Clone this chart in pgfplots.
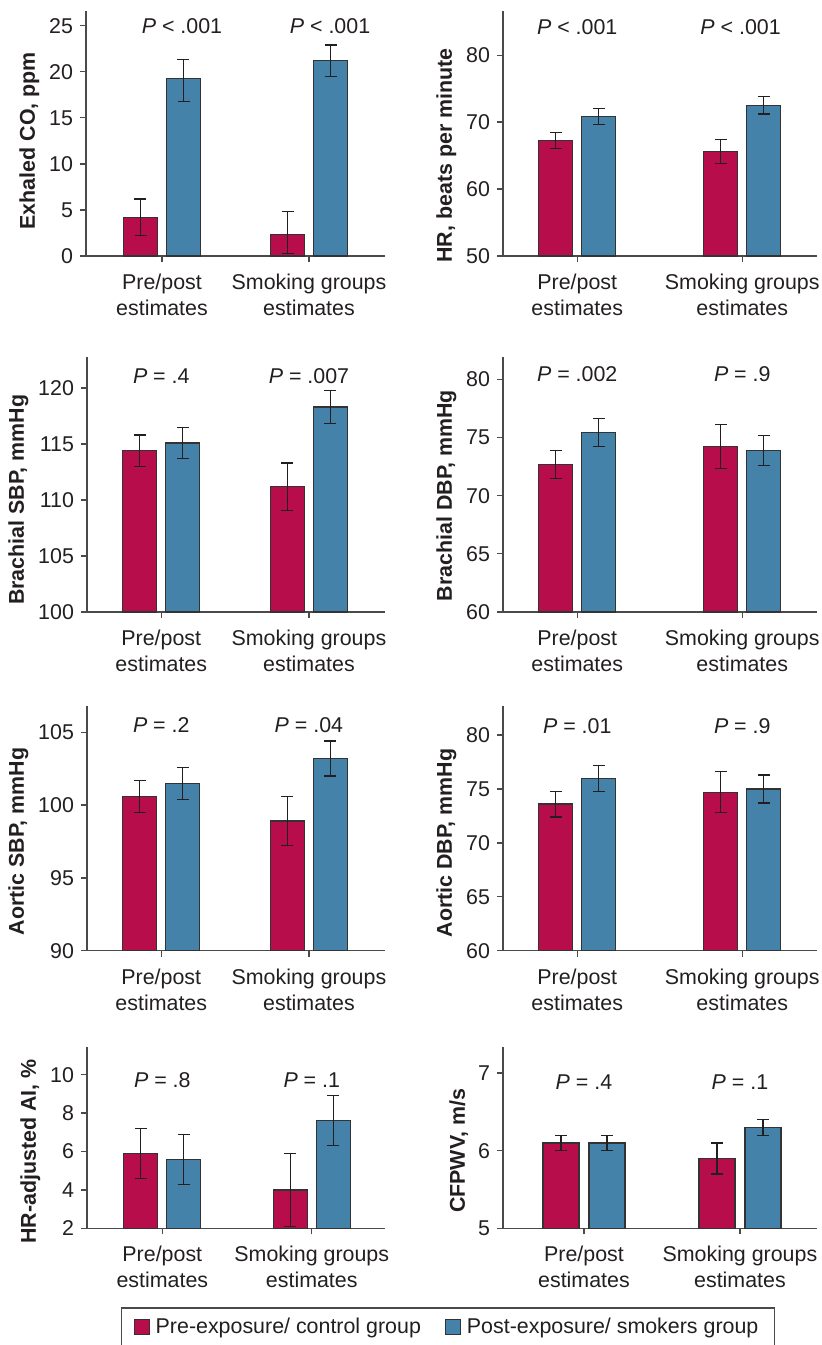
\documentclass[border=0pt]{standalone}
\usepackage{fontspec}
\setmainfont{Liberation Sans}
\usepackage{pgfplots}
\pgfplotsset{compat=1.18}
\definecolor{cred}{HTML}{B80D4B}
\definecolor{cblue}{HTML}{4482AA}
\definecolor{axgray}{HTML}{4A4A4A}
\definecolor{txt}{HTML}{231F20}
\newcommand{\fs}{\fontsize{10.7}{12.9}\selectfont}
\tikzset{ptext/.style={font=\fs, text=txt}}
\pgfplotsset{
  panel/.style={
    scale only axis, anchor=south west,
    axis lines*=left,
    axis line style={draw=axgray, line width=0.65pt},
    tick style={draw=axgray, line width=0.65pt},
    tick align=outside, major tick length=3pt,
    ybar=4.5pt, bar width=17pt,
    xtick={0,1}, xticklabels={{Pre/post\\estimates},{Smoking groups\\estimates}},
    xticklabel style={align=center, font=\fs, text=txt, yshift=-2.5pt},
    yticklabel style={font=\fs, text=txt},
    ylabel style={font=\fs\bfseries, text=txt, yshift=-2pt},
    /pgf/number format/assume math mode=true,
  },
  errb/.style={error bars/.cd, y dir=both, y explicit,
    error bar style={line width=0.6pt, draw=txt},
    error mark options={rotate=90, line width=0.6pt, mark size=3pt, draw=txt}},
  prebar/.style={fill=cred, draw=black!80, line width=0.6pt},
  postbar/.style={fill=cblue, draw=black!80, line width=0.6pt},
}
\begin{document}
\begin{tikzpicture}
\useasboundingbox (0,0) rectangle (410.5pt,-672.5pt);
% Row 1 left
\begin{axis}[panel, at={(43pt,-128pt)}, width=149.5pt, height=122.5pt,
  xmin=-0.517, xmax=1.517, ymin=0, ymax=26.6, ytick={0,5,10,15,20,25},
  ylabel={Exhaled CO, ppm}, ylabel style={at={(ticklabel cs:0.47)}}]
\addplot[prebar, errb] coordinates {(0,4.2) += (0,2.0) -= (0,2.0) (1,2.3) += (0,2.5) -= (0,2.0)};
\addplot[postbar, errb] coordinates {(0,19.3) += (0,2.0) -= (0,2.5) (1,21.2) += (0,1.7) -= (0,1.7)};
\node[ptext] at (axis cs:0.136,25) {\textit{P} < .001};
\node[ptext] at (axis cs:1.143,25) {\textit{P} < .001};
\end{axis}
% Row 1 right
\begin{axis}[panel, at={(251.5pt,-128pt)}, width=157pt, height=122.5pt,
  xmin=-0.45, xmax=1.453, ymin=50, ymax=86.6, ytick={50,60,70,80},
  ylabel={HR, beats per minute}, ylabel style={at={(ticklabel cs:0.41)}}]
\addplot[prebar, errb] coordinates {(0,67.3) += (0,1.2) -= (0,1.2) (1,65.6) += (0,1.8) -= (0,1.8)};
\addplot[postbar, errb] coordinates {(0,70.8) += (0,1.2) -= (0,1.2) (1,72.5) += (0,1.3) -= (0,1.3)};
\node[ptext] at (axis cs:0,84.2) {\textit{P} < .001};
\node[ptext] at (axis cs:0.99,84.2) {\textit{P} < .001};
\end{axis}
% Row 2 left
\begin{axis}[panel, at={(43.5pt,-306pt)}, width=149pt, height=127.65pt,
  xmin=-0.503, xmax=1.515, ymin=100, ymax=122.8, ytick={100,105,110,115,120},
  ylabel={Brachial SBP, mmHg}, ylabel style={at={(ticklabel cs:0.439)}}]
\addplot[prebar, errb] coordinates {(0,114.4) += (0,1.4) -= (0,1.4) (1,111.2) += (0,2.1) -= (0,2.1)};
\addplot[postbar, errb] coordinates {(0,115.1) += (0,1.4) -= (0,1.4) (1,118.3) += (0,1.5) -= (0,1.5)};
\node[ptext] at (axis cs:0,121.1) {\textit{P} = .4};
\node[ptext] at (axis cs:1,121.1) {\textit{P} = .007};
\end{axis}
% Row 2 right
\begin{axis}[panel, at={(251.5pt,-306pt)}, width=157pt, height=127.65pt,
  xmin=-0.45, xmax=1.453, ymin=60, ymax=81.94, ytick={60,65,70,75,80},
  ylabel={Brachial DBP, mmHg}, ylabel style={at={(ticklabel cs:0.456)}}]
\addplot[prebar, errb] coordinates {(0,72.7) += (0,1.2) -= (0,1.2) (1,74.2) += (0,1.9) -= (0,1.9)};
\addplot[postbar, errb] coordinates {(0,75.4) += (0,1.2) -= (0,1.2) (1,73.9) += (0,1.3) -= (0,1.3)};
\node[ptext] at (axis cs:0,80.4) {\textit{P} = .002};
\node[ptext] at (axis cs:1,80.4) {\textit{P} = .9};
\end{axis}
% Row 3 left
\begin{axis}[panel, at={(43.5pt,-475.35pt)}, width=149pt, height=122.35pt,
  xmin=-0.503, xmax=1.515, ymin=90, ymax=106.8, ytick={90,95,100,105},
  ylabel={Aortic SBP, mmHg}, ylabel style={at={(ticklabel cs:0.446)}}]
\addplot[prebar, errb] coordinates {(0,100.6) += (0,1.1) -= (0,1.1) (1,98.9) += (0,1.7) -= (0,1.7)};
\addplot[postbar, errb] coordinates {(0,101.5) += (0,1.1) -= (0,1.1) (1,103.2) += (0,1.2) -= (0,1.2)};
\node[ptext] at (axis cs:0,105.47) {\textit{P} = .2};
\node[ptext] at (axis cs:1,105.47) {\textit{P} = .04};
\end{axis}
% Row 3 right
\begin{axis}[panel, at={(251.5pt,-475.35pt)}, width=157pt, height=122.35pt,
  xmin=-0.45, xmax=1.453, ymin=60, ymax=82.69, ytick={60,65,70,75,80},
  ylabel={Aortic DBP, mmHg}, ylabel style={at={(ticklabel cs:0.44)}}]
\addplot[prebar, errb] coordinates {(0,73.6) += (0,1.2) -= (0,1.2) (1,74.7) += (0,1.9) -= (0,1.9)};
\addplot[postbar, errb] coordinates {(0,76.0) += (0,1.2) -= (0,1.2) (1,75.0) += (0,1.3) -= (0,1.3)};
\node[ptext] at (axis cs:0,80.85) {\textit{P} = .01};
\node[ptext] at (axis cs:1,80.85) {\textit{P} = .9};
\end{axis}
% Row 4 left
\begin{axis}[panel, at={(43.5pt,-614.15pt)}, width=149pt, height=90.8pt,
  xmin=-0.504, xmax=1.49, ymin=2, ymax=11.46, ytick={2,4,6,8,10},
  ylabel={HR-adjusted AI, \%}, ylabel style={at={(ticklabel cs:0.423)}}]
\addplot[prebar, errb] coordinates {(0,5.9) += (0,1.3) -= (0,1.3) (1,4.0) += (0,1.9) -= (0,1.9)};
\addplot[postbar, errb] coordinates {(0,5.6) += (0,1.3) -= (0,1.3) (1,7.6) += (0,1.3) -= (0,1.3)};
\node[ptext] at (axis cs:0,9.74) {\textit{P} = .8};
\node[ptext] at (axis cs:1,9.74) {\textit{P} = .1};
\end{axis}
% Row 4 right
\begin{axis}[panel, at={(251.5pt,-614.15pt)}, width=157pt, height=90.8pt,
  ybar=5pt, bar width=18pt,
  xmin=-0.519, xmax=1.494, ymin=5, ymax=7.34, ytick={5,6,7},
  ylabel={CFPWV, m/s}, ylabel style={at={(ticklabel cs:0.427)}},
  legend columns=2,
  legend style={at={(-0.175,-0.545)}, anchor=center, draw=axgray, line width=0.6pt,
    font=\fs, text=txt, inner xsep=6pt, inner ysep=3pt,
    /tikz/every even column/.append style={column sep=10pt},
    /tikz/every odd column/.append style={column sep=1pt}},
  legend image code/.code={\draw[#1, line width=0.5pt] (0pt,-3.75pt) rectangle (7.5pt,3.75pt);}]
\addplot[prebar, errb] coordinates {(0,6.1) += (0,0.1) -= (0,0.1) (1,5.9) += (0,0.2) -= (0,0.2)};
\addplot[postbar, errb] coordinates {(0,6.1) += (0,0.1) -= (0,0.1) (1,6.3) += (0,0.1) -= (0,0.1)};
\node[ptext] at (axis cs:0,6.88) {\textit{P} = .4};
\node[ptext] at (axis cs:1,6.88) {\textit{P} = .1};
\legend{Pre-exposure/ control group, Post-exposure/ smokers group}
\end{axis}
\end{tikzpicture}
\end{document}
